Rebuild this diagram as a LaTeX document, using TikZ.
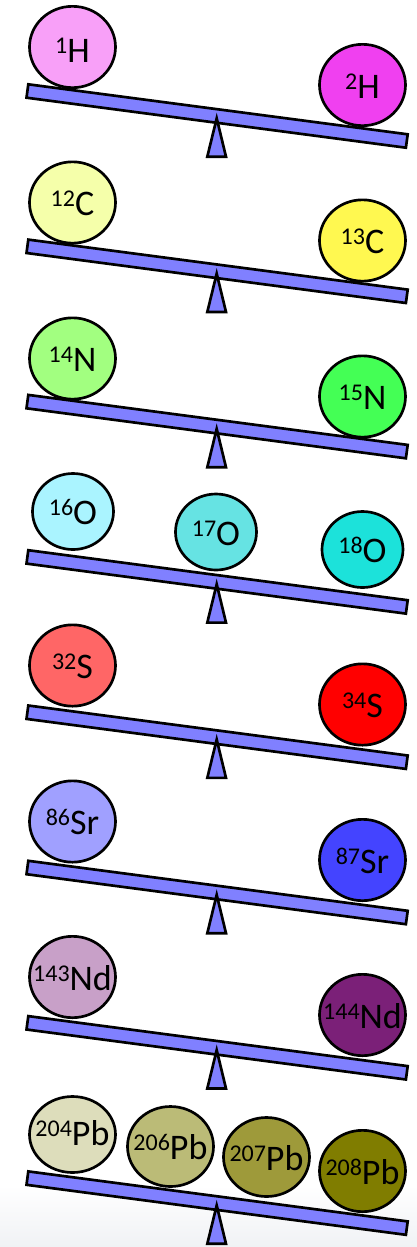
\documentclass[tikz,border=0pt]{standalone}
\usepackage{fontspec}
\setmainfont{Carlito}
\usetikzlibrary{shapes.geometric}

\definecolor{beamblue}{HTML}{8080FF}
\definecolor{cHa}{HTML}{F8A0F8}
\definecolor{cHb}{HTML}{F040F0}
\definecolor{cCa}{HTML}{F5FFAA}
\definecolor{cCb}{HTML}{FFF850}
\definecolor{cNa}{HTML}{A2FF80}
\definecolor{cNb}{HTML}{44FF55}
\definecolor{cOa}{HTML}{AAF4FF}
\definecolor{cOb}{HTML}{66E3E3}
\definecolor{cOc}{HTML}{1CE2DA}
\definecolor{cSa}{HTML}{FF6666}
\definecolor{cSb}{HTML}{FF0000}
\definecolor{cSra}{HTML}{A0A0FF}
\definecolor{cSrb}{HTML}{4444FF}
\definecolor{cNda}{HTML}{C8A0C8}
\definecolor{cNdb}{HTML}{7B2078}
\definecolor{cPba}{HTML}{DDDDBB}
\definecolor{cPbb}{HTML}{BBBB77}
\definecolor{cPbc}{HTML}{9E9A3A}
\definecolor{cPbd}{HTML}{807D00}
\definecolor{floor}{HTML}{F0F2F5}

% isotope label: mass number raised in a smaller size
\newcommand\nuc[2]{{\fontsize{18}{18}\selectfont\raisebox{7pt}{#1}}#2}

% one seesaw: beam and fulcrum, shifted down by panel index
\newcommand\seesaw[1]{%
  \pgfmathsetmacro\panoff{155.3*#1}%
  \filldraw[beamstyle] (28.3,{84.3+\panoff}) -- (407.7,{134.3+\panoff})
     -- (405.9,{147.7+\panoff}) -- (26.5,{97.7+\panoff}) -- cycle;
  \filldraw[beamstyle] (216.7,{118.3+\panoff}) -- (226,{156.7+\panoff})
     -- (207.3,{156.7+\panoff}) -- cycle;}

\tikzset{
  beamstyle/.style={fill=beamblue, draw=black, line width=2pt},
  ball/.style={ellipse, draw=black, line width=2pt, inner sep=0pt,
    minimum width=64.5pt, minimum height=61pt},
  small/.style={minimum width=60.75pt, minimum height=57pt},
  isolabel/.style={anchor=base, inner sep=0pt, yshift=-10pt,
    font=\fontsize{27}{30}\selectfont},
}

\begin{document}
\begin{tikzpicture}[x=0.75pt, y=-0.75pt]
\useasboundingbox (0,0) rectangle (417,1247);
\shade[top color=white, bottom color=floor] (0,1185) rectangle (417,1247);

\foreach \k in {0,...,7} {\seesaw{\k}}

% hydrogen
\node[ball, fill=cHa] (h1) at (72.5,47) {};
\node[ball, fill=cHb] (h2) at (362.5,85) {};
% carbon
\node[ball, fill=cCa] (c12) at (72.5,202.5) {};
\node[ball, fill=cCb] (c13) at (362.5,240.5) {};
% nitrogen
\node[ball, fill=cNa] (n14) at (72.5,358.5) {};
\node[ball, fill=cNb] (n15) at (362.5,396.5) {};
% oxygen
\node[ball, small, fill=cOa] (o16) at (73,511.5) {};
\node[ball, small, fill=cOb] (o17) at (216,532) {};
\node[ball, small, fill=cOc] (o18) at (362.5,549.5) {};
% sulfur
\node[ball, fill=cSa] (s32) at (72.5,665.5) {};
\node[ball, fill=cSb] (s34) at (362.5,704.5) {};
% strontium
\node[ball, fill=cSra] (sr86) at (72.5,821.5) {};
\node[ball, fill=cSrb] (sr87) at (362.5,860) {};
% neodymium
\node[ball, fill=cNda] (nd143) at (72.5,977) {};
\node[ball, fill=cNdb] (nd144) at (362.5,1015) {};
% lead
\node[ball, fill=cPba, minimum height=57pt] (pb204) at (72.5,1134.5) {};
\node[ball, fill=cPbb, minimum height=60pt] (pb206) at (170.5,1146.5) {};
\node[ball, fill=cPbc, minimum height=59.25pt] (pb207) at (266.5,1157) {};
\node[ball, fill=cPbd] (pb208) at (362.5,1171) {};

% labels on the balls
\node[isolabel, yshift=-1.5pt] (h1t) at (h1.center) {\nuc{1}{H}};
\node[isolabel] (h2t) at (h2.center) {\nuc{2}{H}};
\node[isolabel] (c12t) at (c12.center) {\nuc{12}{C}};
\node[isolabel] (c13t) at (c13.center) {\nuc{13}{C}};
\node[isolabel] (n14t) at (n14.center) {\nuc{14}{N}};
\node[isolabel] (n15t) at (n15.center) {\nuc{15}{N}};
\node[isolabel] (o16t) at (o16.center) {\nuc{16}{O}};
\node[isolabel] (o17t) at (o17.center) {\nuc{17}{O}};
\node[isolabel] (o18t) at (o18.center) {\nuc{18}{O}};
\node[isolabel] (s32t) at (s32.center) {\nuc{32}{S}};
\node[isolabel] (s34t) at (s34.center) {\nuc{34}{S}};
\node[isolabel] (sr86t) at (sr86.center) {\nuc{86}{Sr}};
\node[isolabel] (sr87t) at (sr87.center) {\nuc{87}{Sr}};
\node[isolabel] (nd143t) at (nd143.center) {\nuc{143}{Nd}};
\node[isolabel] (nd144t) at (nd144.center) {\nuc{144}{Nd}};
\node[isolabel, yshift=1.5pt] (pb204t) at (pb204.center) {\nuc{204}{Pb}};
\node[isolabel] (pb206t) at (pb206.center) {\nuc{206}{Pb}};
\node[isolabel] (pb207t) at (pb207.center) {\nuc{207}{Pb}};
\node[isolabel] (pb208t) at (pb208.center) {\nuc{208}{Pb}};
\end{tikzpicture}
\end{document}
